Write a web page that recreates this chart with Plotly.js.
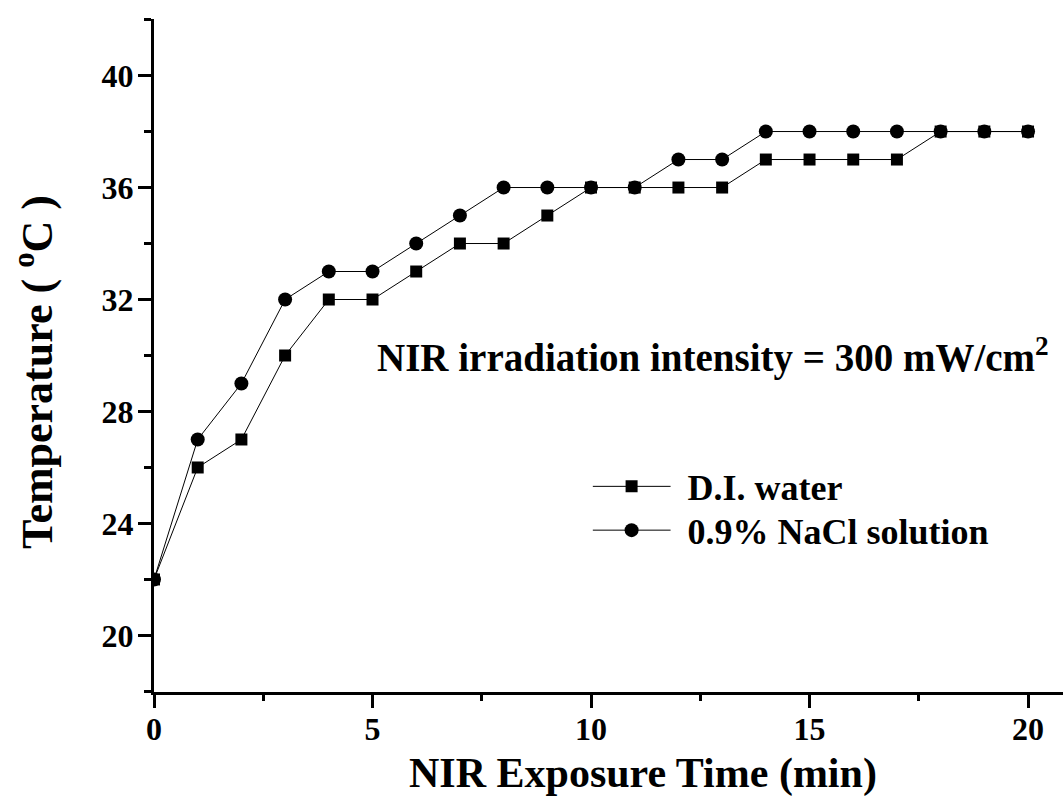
<!DOCTYPE html>
<html>
<head>
<meta charset="utf-8">
<script src="https://cdn.plot.ly/plotly-3.0.1.min.js"></script>
<style>html,body{margin:0;padding:0;background:#fff;}#chart{width:1063px;height:799px;}</style>
</head>
<body>
<div id="chart"></div>
<script>
const timeMin = [0,1,2,3,4,5,6,7,8,9,10,11,12,13,14,15,16,17,18,19,20];
const diWater = [22,26,27,30,32,32,33,34,34,35,36,36,36,36,37,37,37,37,38,38,38];
const naclSolution = [22,27,29,32,33,33,34,35,36,36,36,36,37,37,38,38,38,38,38,38,38];
const seriesNames = ["D.I. water", "0.9% NaCl solution"];
const xTickVals = [0,5,10,15,20];
const yTickVals = [20,24,28,32,36,40];
const xTitle = "NIR Exposure Time (min)";
const yTitle = "Temperature ( <sup>o</sup>C )";
const noteText = "NIR irradiation intensity = 300 mW/cm<sup>2</sup>";

const FONT = "Liberation Serif, Times New Roman, serif";

const traces = [
  {x: timeMin, y: diWater, name: seriesNames[0], type: "scatter", mode: "lines+markers",
   line: {color: "#000", width: 1}, marker: {symbol: "square", size: 12, color: "#000"}},
  {x: timeMin, y: naclSolution, name: seriesNames[1], type: "scatter", mode: "lines+markers",
   line: {color: "#000", width: 1}, marker: {symbol: "circle", size: 14, color: "#000"}}
];

const layout = {
  width: 1063, height: 799,
  margin: {l: 154, r: 0, t: 19, b: 107},
  paper_bgcolor: "#fff", plot_bgcolor: "#fff",
  font: {family: FONT, color: "#000", weight: "bold"},
  showlegend: true,
  legend: {x: 0.4825, y: 0.350, xanchor: "left", yanchor: "top",
    font: {family: FONT, size: 36, color: "#000", weight: "bold"},
    bgcolor: "rgba(0,0,0,0)", itemwidth: 85, tracegroupgap: 0},
  xaxis: {range: [0, 20.8], showline: true, linecolor: "#000", linewidth: 3,
    showgrid: false, zeroline: false, ticks: "outside", ticklen: 13, tickwidth: 3, tickcolor: "#000",
    tickvals: xTickVals, ticklabelstandoff: -6,
    minor: {tickvals: [2.5,7.5,12.5,17.5], ticks: "outside", ticklen: 6, tickwidth: 3, tickcolor: "#000", showgrid: false},
    tickfont: {family: FONT, size: 32, color: "#000", weight: "bold"}},
  yaxis: {range: [17.98, 42.02], showline: true, linecolor: "#000", linewidth: 3,
    showgrid: false, zeroline: false, ticks: "outside", ticklen: 13, tickwidth: 3, tickcolor: "#000",
    tickvals: yTickVals, ticklabelstandoff: -2,
    minor: {tickvals: [18,22,26,30,34,38,42], ticks: "outside", ticklen: 7, tickwidth: 3, tickcolor: "#000", showgrid: false},
    tickfont: {family: FONT, size: 32, color: "#000", weight: "bold"}},
  annotations: [
    {x: 12.8, y: 30, xref: "x", yref: "y", text: noteText, showarrow: false,
     font: {family: FONT, size: 39, color: "#000", weight: "bold"}},
    {x: 0.538, y: -0.121, xref: "paper", yref: "paper", xanchor: "center", yanchor: "middle",
     text: xTitle, showarrow: false, font: {family: FONT, size: 42, color: "#000", weight: "bold"}},
    {x: -0.131, y: 0.4755, xref: "paper", yref: "paper", xanchor: "center", yanchor: "middle",
     text: yTitle, textangle: -90, showarrow: false, font: {family: FONT, size: 44, color: "#000", weight: "bold"}}
  ]
};

Plotly.newPlot("chart", traces, layout, {displayModeBar: false, staticPlot: true}).then(function () {
  // lengthen legend symbol line to match the reference's line-marker-line sample
  document.querySelectorAll(".legend .legendlines path").forEach(function (p) {
    p.setAttribute("d", "M0,0h78");
  });
  document.querySelectorAll(".legend .legendpoints path").forEach(function (p) {
    p.setAttribute("transform", "translate(39,0)");
  });
  // tighten the row spacing of the legend like the reference
  const items = document.querySelectorAll(".legend .traces");
  if (items.length > 1) {
    const t = items[1].getAttribute("transform") || "";
    const m = t.match(/translate\(\s*([-\d.]+)[ ,]+([-\d.]+)\s*\)/);
    if (m) items[1].setAttribute("transform", "translate(" + m[1] + "," + (parseFloat(m[2]) - 6) + ")");
  }
});
</script>
</body>
</html>
